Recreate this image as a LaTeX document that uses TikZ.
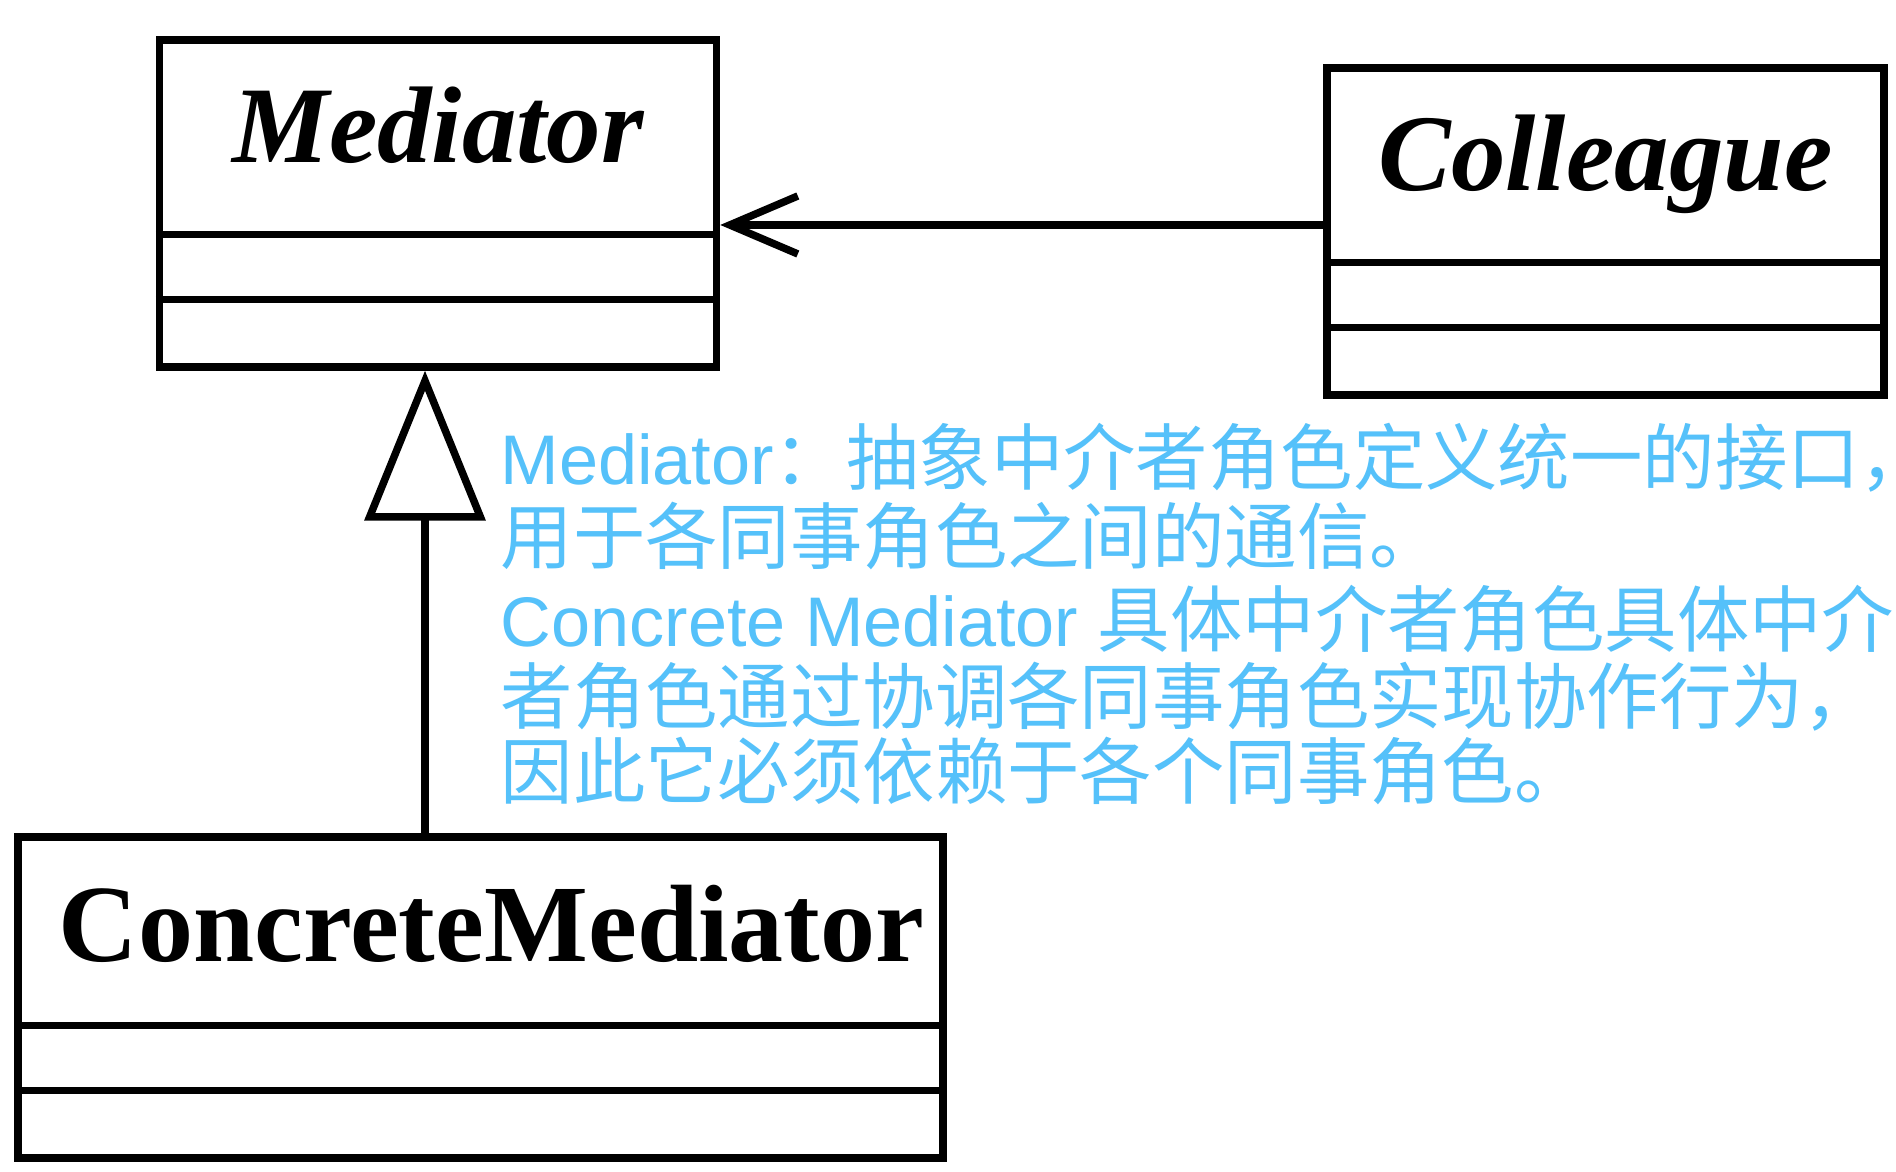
\documentclass[tikz,border=0pt]{standalone}
\usepackage{fontspec}
\setmainfont{Liberation Serif}
\newfontfamily\cjk{Noto Sans CJK SC}
\newfontfamily\lat[Scale=0.97]{Liberation Sans}
\usepackage{xcolor}
\usetikzlibrary{arrows.meta,positioning,calc}
\definecolor{notecolor}{RGB}{85,193,250}

\begin{document}
\begin{tikzpicture}[x=0.1mm,y=0.1mm,
  umlbox/.style={draw,line width=0.75mm,minimum width=55.7mm,minimum height=32.7mm,inner sep=0pt},
  title/.style={anchor=base,inner sep=0pt,font=\fontsize{31}{36}\selectfont\bfseries\itshape},
  note/.style={anchor=base west,inner sep=0pt,text=notecolor,font=\cjk\fontsize{20.6}{25}\selectfont},
  sep/.style={line width=0.75mm}]
 \useasboundingbox[fill=white] (0,0) rectangle (1896,1172);
 % ---- classes ----
 \node[umlbox] (med) at (438,968.5) {};
 \node[umlbox] (col) at (1605.5,940.5) {};
 \node[umlbox,minimum width=92.5mm,minimum height=32.1mm] (cmed) at (480.5,174.5) {};
 \node[title] (medname) at ($(med.north)+(0,-126)$) {Mediator};
 \node[title] (colname) at ($(col.north)+(0,-126)$) {Colleague};
 \node[title,font=\fontsize{31.3}{36}\selectfont\bfseries] (cmedname) at ($(cmed.north)+(11,-128)$) {ConcreteMediator};
 \foreach \b in {med,col,cmed} {
   \draw[sep] ($(\b.south west)+(0,71)$) -- ($(\b.south east)+(0,71)$);
   \draw[sep] ($(\b.south west)+(0,136)$) -- ($(\b.south east)+(0,136)$);
 }
 % ---- relations ----
 \coordinate (gen) at (425,0);
 \coordinate (asc) at ([yshift=0.65mm]col.west);
 \draw[line width=0.75mm,-{Triangle[open,length=15mm,width=12mm]}] (cmed.north -| gen) -- (med.south -| gen);
 \draw[line width=0.75mm,-{Straight Barb[length=6.8mm,width=5.8mm]}] (asc) -- (asc -| med.east);
 % ---- note ----
 \node[note] (note1) at (500,687) {{\lat Mediator}：抽象中介者角色定义统一的接口，};
 \node[note] (note2) at (500,608) {用于各同事角色之间的通信。};
 \node[note] (note3) at (500,525) {{\lat Concrete Mediator }具体中介者角色具体中介};
 \node[note] (note4) at (500,448) {者角色通过协调各同事角色实现协作行为，};
 \node[note] (note5) at (500,373) {因此它必须依赖于各个同事角色。};
\end{tikzpicture}
\end{document}
